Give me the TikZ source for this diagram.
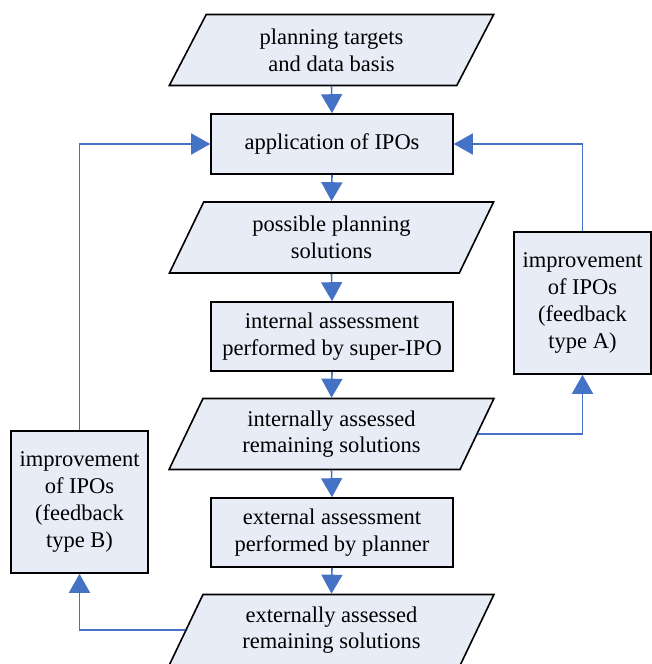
\documentclass[tikz,border=0pt]{standalone}
\usepackage{fontspec}
\setmainfont{Liberation Serif}
\usetikzlibrary{shapes.geometric,arrows.meta}
\definecolor{fillblue}{RGB}{231,236,247}
\definecolor{lineblue}{RGB}{68,114,196}
\begin{document}
\begin{tikzpicture}[x=1pt,y=-1pt,
  every node/.style={font=\fontsize{22.5}{26.7}\selectfont, align=center, inner sep=0pt},
  para/.style={trapezium, trapezium left angle=63.5, trapezium right angle=116.5,
    trapezium stretches=true, minimum width=325pt, minimum height=71pt,
    draw=black, line width=1.6pt, fill=fillblue},
  procbox/.style={rectangle, draw=black, line width=1.6pt, fill=fillblue,
    minimum width=242pt},
  fbbox/.style={rectangle, draw=black, line width=1.6pt, fill=fillblue,
    minimum width=137pt, minimum height=142pt},
  arr/.style={draw=lineblue, line width=1.6pt, -{Triangle[width=21pt,length=19pt]}},
  ln/.style={draw=lineblue, line width=1.6pt}
]
\useasboundingbox (0,0) rectangle (651,664);
\node[para] (p1) at (331.5,50) {planning targets\\and data basis};
\node[procbox, minimum height=60pt] (b1) at (332,144) {application of IPOs};
\node[para] (p2) at (331.5,237.5) {possible planning\\solutions};
\node[procbox, minimum height=69pt] (b2) at (332,336.5) {internal assessment\\performed by super-IPO};
\node[para] (p3) at (331.5,434) {internally assessed\\remaining solutions};
\node[procbox, minimum height=69pt] (b3) at (332,532.5) {external assessment\\performed by planner};
\node[para] (p4) at (331.5,630) {externally assessed\\remaining solutions};
\node[fbbox] (bA) at (582.5,303) {improvement\\of IPOs\\(feedback\\type A)};
\node[fbbox] (bB) at (79.5,502) {improvement\\of IPOs\\(feedback\\type B)};

\draw[arr] (p1.south) -- (b1.north);
\draw[arr] (b1.south) -- (p2.north);
\draw[arr] (p2.south) -- (b2.north);
\draw[arr] (b2.south) -- (p3.north);
\draw[arr] (p3.south) -- (b3.north);
\draw[arr] (b3.south) -- (p4.north);

\draw[arr] (p3.east) -| (bA.south);
\draw[arr] (bA.north) |- (b1.east);
\draw[arr] (p4.west) -| (bB.south);
\draw[arr] (bB.north) |- (b1.west);
\end{tikzpicture}
\end{document}
